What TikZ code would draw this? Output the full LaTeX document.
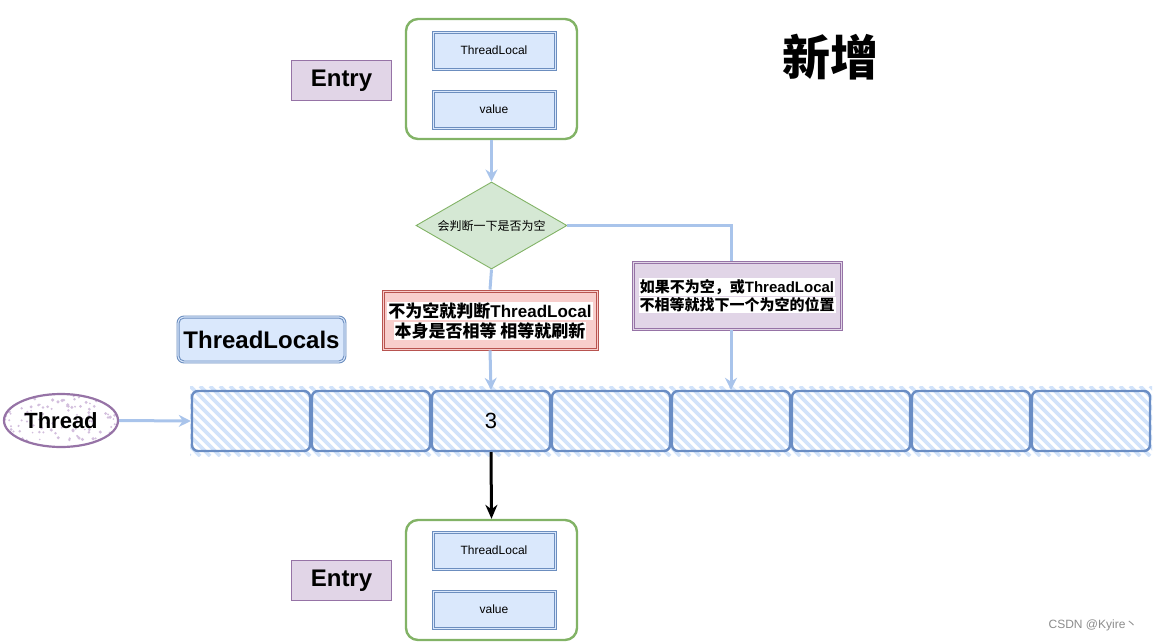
\documentclass[tikz,border=0pt]{standalone}
\usepackage{fontspec}
\setmainfont{Liberation Sans}
\newfontfamily\cjk{Noto Sans CJK SC}
\usetikzlibrary{shapes.geometric,arrows.meta}
\definecolor{gborder}{HTML}{82B366}
\definecolor{gfill}{HTML}{D5E8D4}
\definecolor{bborder}{HTML}{6C8EBF}
\definecolor{bfill}{HTML}{DAE8FC}
\definecolor{pborder}{HTML}{9673A6}
\definecolor{pfill}{HTML}{E1D5E7}
\definecolor{rborder}{HTML}{B85450}
\definecolor{rfill}{HTML}{F8CECC}
\definecolor{arrowblue}{HTML}{A9C4EB}
\definecolor{hatchc}{HTML}{D2E3FA}
\definecolor{cellc}{HTML}{6A8DC4}
\definecolor{dotc}{HTML}{D3BFDD}
\begin{document}
\begin{tikzpicture}[x=1pt,y=-1pt,
  cont/.style={draw=gborder, line width=2.4pt, rounded corners=12pt, minimum width=171pt, minimum height=120pt, inner sep=0},
  field/.style={draw=bborder, line width=0.9pt, fill=bfill, minimum width=124pt, minimum height=39pt, inner sep=0, font=\fontsize{12}{14}\selectfont},
  entrybox/.style={draw=pborder, line width=1pt, fill=pfill, minimum width=100pt, minimum height=40pt, inner sep=0, font=\bfseries\fontsize{24}{28}\selectfont},
  conn/.style={draw=arrowblue, line width=3pt},
  arr/.style={conn, -{Stealth[length=12pt,width=12pt]}},
  hl/.style={fill=white, inner sep=1pt},
  cell/.style={draw=cellc, line width=2.4pt, rounded corners=6pt, minimum width=118pt, minimum height=60pt, inner sep=0, font=\fontsize{22}{26}\selectfont},
  plainbox/.style={line width=0.9pt, inner sep=0}
]
\useasboundingbox (0,0) rectangle (1153,642);

% top entry
\node[cont] (topc) at (491.5,79) {};
\node[field] (tl1) at (494,50.5) {ThreadLocal};
\draw[bborder, line width=0.9pt] ([shift={(2.5,2.5)}]tl1.north west) rectangle ([shift={(-2.5,-2.5)}]tl1.south east);
\node[field] (val1) at (494,109.5) {value};
\draw[bborder, line width=0.9pt] ([shift={(2.5,2.5)}]val1.north west) rectangle ([shift={(-2.5,-2.5)}]val1.south east);
\node[entrybox] (entry1) at (341.5,80.5) {Entry};

\node[font=\bfseries\fontsize{48}{52}\selectfont] (xz) at (830,57) {{\cjk 新增}};

% diamond
\node[diamond, draw=gborder, fill=gfill, line width=0.9pt, minimum width=151pt, minimum height=87pt, shape aspect=1.74, inner sep=0, font=\fontsize{12}{14}\selectfont] (dia) at (491.5,225.5) {{\cjk 会判断一下是否为空}};

% purple box
\node[plainbox, draw=pborder, fill=pfill, minimum width=210pt, minimum height=69pt] (pbox) at (737,295.5) {};
\draw[pborder, line width=0.9pt] ([shift={(2.5,2.5)}]pbox.north west) rectangle ([shift={(-2.5,-2.5)}]pbox.south east);
\node[hl, font=\bfseries\fontsize{15}{18}\selectfont] (p1) at (737,287) {{\cjk 如果不为空，或}ThreadLocal};
\node[hl, font=\bfseries\fontsize{15}{18}\selectfont] (p2) at (737,305) {{\cjk 不相等就找下一个为空的位置}};

% red box
\node[plainbox, draw=rborder, fill=rfill, minimum width=216pt, minimum height=60pt] (rbox) at (490,320) {};
\draw[rborder, line width=0.9pt] ([shift={(2.5,2.5)}]rbox.north west) rectangle ([shift={(-2.5,-2.5)}]rbox.south east);
\node[hl, font=\bfseries\fontsize{17}{20}\selectfont] (r1) at (490,311) {{\cjk 不为空就判断}ThreadLocal};
\node[hl, font=\bfseries\fontsize{17}{20}\selectfont] (r2) at (490,331) {{\cjk 本身是否相等 相等就刷新}};

% ThreadLocals label
\node[plainbox, draw=bborder, fill=bfill, rounded corners=7pt, minimum width=169pt, minimum height=47pt, font=\bfseries\fontsize{24}{28}\selectfont] (tls) at (261.5,339.5) {ThreadLocals};
\draw[bborder, line width=0.9pt, rounded corners=5pt] ([shift={(2.5,2.5)}]tls.north west) rectangle ([shift={(-2.5,-2.5)}]tls.south east);

% hatch of array
\begin{scope}
  \clip (190,386) rectangle (1152,456);
  \foreach \x in {100,110,...,1170} \draw[hatchc, line width=3.6pt] (\x,386) -- ++(70,70);
\end{scope}

% cells
\foreach \i in {1,...,8} {
  \pgfmathsetmacro\cx{251+120*(\i-1)}
  \node[cell] (c\i) at (\cx,421) {};
}
\node[font=\fontsize{22}{26}\selectfont] (three) at (c3.center) {3};

% Thread ellipse
\node[ellipse, draw=pborder, line width=2.2pt, fill=white, minimum width=114pt, minimum height=53pt, inner sep=0,
  font=\bfseries\fontsize{22}{26}\selectfont,
  path picture={\pgfmathsetseed{11}\foreach \k in {1,...,120}{\pgfmathsetmacro\dx{rnd*116}\pgfmathsetmacro\dy{rnd*55}\pgfmathsetmacro\rr{0.9+rnd*0.9}\fill[dotc] ([shift={(\dx pt,-\dy pt)}]path picture bounding box.north west) circle (\rr pt);}}
] (thread) at (61,420.5) {Thread};

% bottom entry
\node[cont] (botc) at (491.5,580) {};
\node[field] (tl2) at (494,550.5) {ThreadLocal};
\draw[bborder, line width=0.9pt] ([shift={(2.5,2.5)}]tl2.north west) rectangle ([shift={(-2.5,-2.5)}]tl2.south east);
\node[field] (val2) at (494,609.5) {value};
\draw[bborder, line width=0.9pt] ([shift={(2.5,2.5)}]val2.north west) rectangle ([shift={(-2.5,-2.5)}]val2.south east);
\node[entrybox] (entry2) at (341.5,580.5) {Entry};

% connectors
\draw[arr] (topc.south) -- (dia.north);
\draw[conn] (dia.east) -- (c5.north |- dia.east) -- (c5.north |- pbox.north);
\draw[arr] (c5.north |- pbox.south) -- (c5.north);
\draw[conn] (dia.south) -- (rbox.north);
\draw[arr] (rbox.south) -- (c3.north);
\draw[arr] (thread.east) -- (c1.west);
\draw[black, line width=3pt, -{Stealth[length=14pt,width=12pt]}] (c3.south) -- (botc.north);

\node[text=black!45, font=\fontsize{12}{14}\selectfont] (wm) at (1093,625) {CSDN @Kyire{\cjk 丶}};
\end{tikzpicture}
\end{document}
